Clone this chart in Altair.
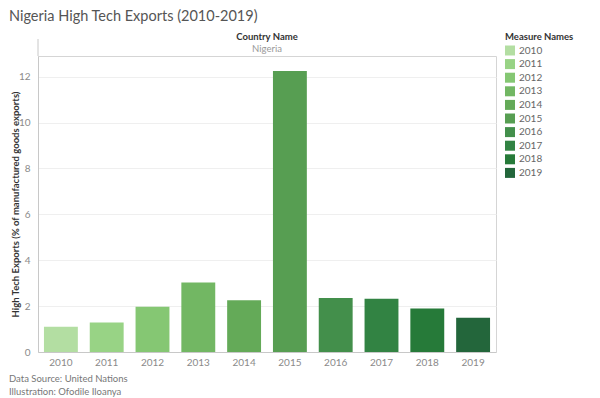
import altair as alt
import pandas as pd

years = ["2010", "2011", "2012", "2013", "2014", "2015", "2016", "2017", "2018", "2019"]
values = [1.10, 1.29, 1.97, 3.03, 2.26, 12.25, 2.35, 2.32, 1.90, 1.49]
colors = ["#b3dea2", "#98d385", "#85c773", "#72b763", "#64aa58",
          "#579e52", "#438f4b", "#328343", "#267a39", "#23663b"]
y_ticks = [0, 2, 4, 6, 8, 10, 12]

df = pd.DataFrame({"Year": years, "Value": values})

FONT = "Lato"
W, H = 458, 296

bars = alt.Chart(df).mark_bar().encode(
    x=alt.X("Year:N", sort=years,
            scale=alt.Scale(paddingInner=0.26, paddingOuter=0.13),
            axis=alt.Axis(title=None, labelAngle=0, labelColor="#8a8a8a",
                          labelFontSize=10, labelFont=FONT, ticks=False,
                          domainColor="#c8c8c8", labelPadding=5)),
    y=alt.Y("Value:Q", scale=alt.Scale(domain=[0, 12.9], nice=False),
            axis=alt.Axis(values=y_ticks,
                          title="High Tech Exports (% of manufactured goods exports)",
                          titleFont=FONT, titleFontSize=9.5, titleFontWeight="bold",
                          titleColor="#333333", titleX=-23, titleBaseline="middle",
                          labelColor="#8a8a8a", labelFontSize=10, labelFont=FONT,
                          ticks=False, labelPadding=8, domainColor="#c8c8c8",
                          gridColor="#efefef")),
    color=alt.Color("Year:N", sort=years,
                    scale=alt.Scale(domain=years, range=colors),
                    legend=alt.Legend(title="Measure Names", orient="none",
                                      legendX=467, legendY=-24,
                                      titleFont=FONT, titleFontSize=9.5,
                                      titleFontWeight="bold", titleColor="#333333",
                                      labelFont=FONT, labelFontSize=10,
                                      labelColor="#666666",
                                      symbolType="square", symbolSize=100,
                                      symbolStrokeWidth=0, rowPadding=3.6,
                                      titlePadding=4)),
)

def txt(s, x, y, size, color, weight="normal", align="left"):
    return alt.Chart(pd.DataFrame({"t": [s]})).mark_text(
        align=align, baseline="middle", font=FONT, fontSize=size,
        color=color, fontWeight=weight
    ).encode(text="t:N", x=alt.value(x), y=alt.value(y))

title = txt("Nigeria High Tech Exports (2010-2019)", -29, -39, 14.5, "#555555")
hdr1 = txt("Country Name", W / 2, -19, 9.5, "#333333", "bold", "center")
hdr2 = txt("Nigeria", W / 2, -7, 9.5, "#999999", "normal", "center")
foot1 = txt("Data Source: United Nations", -29, 323, 9.5, "#777777")
foot2 = txt("Illustration: Ofodile Iloanya", -29, 336, 9.5, "#777777")

hdr_line = alt.Chart(pd.DataFrame({"a": [0]})).mark_rule(
    color="#c8c8c8", strokeWidth=1
).encode(x=alt.value(0), y=alt.value(-17), y2=alt.value(0))

chart = alt.layer(bars, hdr_line, title, hdr1, hdr2, foot1, foot2).properties(
    width=W, height=H,
    autosize=alt.AutoSizeParams(type="none"),
    padding={"left": 30, "top": 48, "right": 80, "bottom": 54},
).configure_view(stroke="#d5d5d5", strokeWidth=1)

chart.save("out.html", embed_options={"renderer": "svg", "actions": False})
